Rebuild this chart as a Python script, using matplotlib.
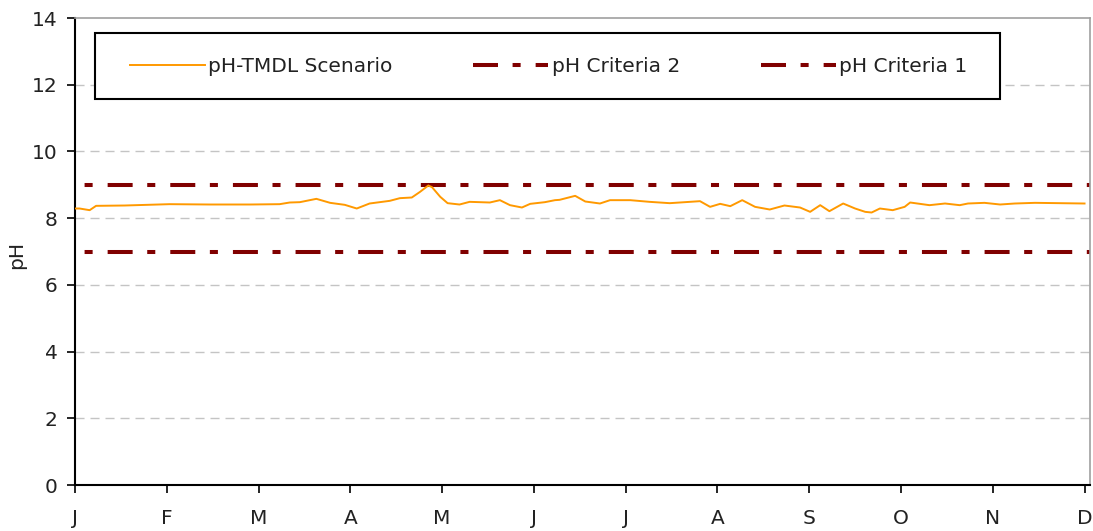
"""
pH TMDL scenario vs. pH criteria, monthly axis
"""

import matplotlib
matplotlib.use('Agg')
import matplotlib.pyplot as plt
from matplotlib.lines import Line2D
from matplotlib.patches import Rectangle

# Data (x in months from Jan 1)
months = ['J', 'F', 'M', 'A', 'M', 'J', 'J', 'A', 'S', 'O', 'N', 'D']

scenario_x = [0.00, 0.05, 0.16, 0.23, 0.54, 1.03, 1.47, 1.91, 2.23, 2.34,
              2.45, 2.63, 2.78, 2.94, 3.07, 3.21, 3.43, 3.54, 3.67, 3.76,
              3.85, 3.89, 3.98, 4.06, 4.19, 4.30, 4.52, 4.63, 4.74, 4.87,
              4.96, 5.12, 5.23, 5.28, 5.45, 5.56, 5.72, 5.83, 6.05, 6.26,
              6.48, 6.81, 6.92, 7.03, 7.14, 7.27, 7.41, 7.57, 7.73, 7.90,
              8.01, 8.12, 8.22, 8.37, 8.50, 8.61, 8.68, 8.77, 8.91, 9.04,
              9.10, 9.31, 9.48, 9.64, 9.73, 9.91, 10.08, 10.24, 10.46, 10.73,
              11.00]
scenario_ph = [8.29, 8.29, 8.24, 8.37, 8.38, 8.42, 8.41, 8.41, 8.42, 8.47,
               8.48, 8.58, 8.46, 8.40, 8.29, 8.44, 8.52, 8.60, 8.62, 8.79,
               8.98, 8.93, 8.64, 8.45, 8.41, 8.49, 8.47, 8.54, 8.39, 8.32,
               8.43, 8.48, 8.54, 8.55, 8.67, 8.50, 8.44, 8.54, 8.54, 8.49,
               8.45, 8.51, 8.34, 8.43, 8.36, 8.54, 8.34, 8.26, 8.38, 8.32,
               8.19, 8.39, 8.21, 8.44, 8.29, 8.19, 8.17, 8.29, 8.24, 8.34,
               8.47, 8.39, 8.44, 8.39, 8.44, 8.46, 8.41, 8.44, 8.46, 8.45,
               8.44]

criteria_x = [0.0, 11.06]
criteria_2 = [9.0, 9.0]
criteria_1 = [7.0, 7.0]

yticks = [0, 2, 4, 6, 8, 10, 12, 14]

plt.rcParams['font.family'] = ['DejaVu Sans']
plt.rcParams['lines.scale_dashes'] = False

fig = plt.figure(figsize=(10.93, 5.31), dpi=100)
ax = fig.add_axes([0.0686, 0.0866, 0.9287, 0.8794])

# long dash, gap, short dash, gap (points)
crit_pattern = (18, 10.5, 5.8, 10.8)
crit_kw = dict(color='#800000', linewidth=2.9, dash_capstyle='butt')

ax.plot(scenario_x, scenario_ph, color='#ff9900', linewidth=1.4, zorder=3)
# offset so the first mark at the axis start is a short dash
ax.plot(criteria_x, criteria_2, linestyle=(21.6, crit_pattern), zorder=2, **crit_kw)
ax.plot(criteria_x, criteria_1, linestyle=(21.6, crit_pattern), zorder=2, **crit_kw)

ax.set_xlim(0, 11.06)
ax.set_ylim(0, 14)
ax.set_xticks(range(len(months)))
ax.set_xticklabels(months)
ax.set_yticks(yticks)

# grid lines at 2..12 only
for yv in yticks[1:-1]:
    ax.axhline(yv, color='#c4c4c4', linewidth=1.0, dashes=[6.5, 4.3], zorder=1)

for side in ['left', 'bottom']:
    ax.spines[side].set_color('black')
    ax.spines[side].set_linewidth(1.5)
for side in ['top', 'right']:
    ax.spines[side].set_color('#a0a0a0')
    ax.spines[side].set_linewidth(1.2)

ax.tick_params(axis='both', direction='out', length=5.5, width=1.2,
               labelsize=14.5, labelcolor='#222222', color='black')
ax.tick_params(axis='y', pad=7)
ax.tick_params(axis='x', pad=12)

fig.text(0.015, 0.52, 'pH', rotation=90, ha='center', va='center',
         fontsize=14.5, color='#222222')

# legend box drawn separately, legend entries spread inside it
ax.add_patch(Rectangle((0.0197, 0.8266), 0.8916, 0.1413, transform=ax.transAxes,
                       facecolor='white', edgecolor='black', linewidth=1.5, zorder=4))
handles = [
    Line2D([], [], color='#ff9900', linewidth=1.4),
    Line2D([], [], linestyle=(0, crit_pattern), **crit_kw),
    Line2D([], [], linestyle=(0, crit_pattern), **crit_kw),
]
labels = ['pH-TMDL Scenario', 'pH Criteria 2', 'pH Criteria 1']
leg = ax.legend(handles, labels, loc='center left',
                bbox_to_anchor=(0.0542, 0.897, 0.8246, 0),
                mode='expand', ncol=3, frameon=False, borderpad=0,
                borderaxespad=0, fontsize=14.5, handlelength=3.73,
                handletextpad=0.15, columnspacing=3.3)
leg.set_zorder(5)
for t in leg.get_texts():
    t.set_color('#222222')

plt.savefig('out.png', dpi=100)
